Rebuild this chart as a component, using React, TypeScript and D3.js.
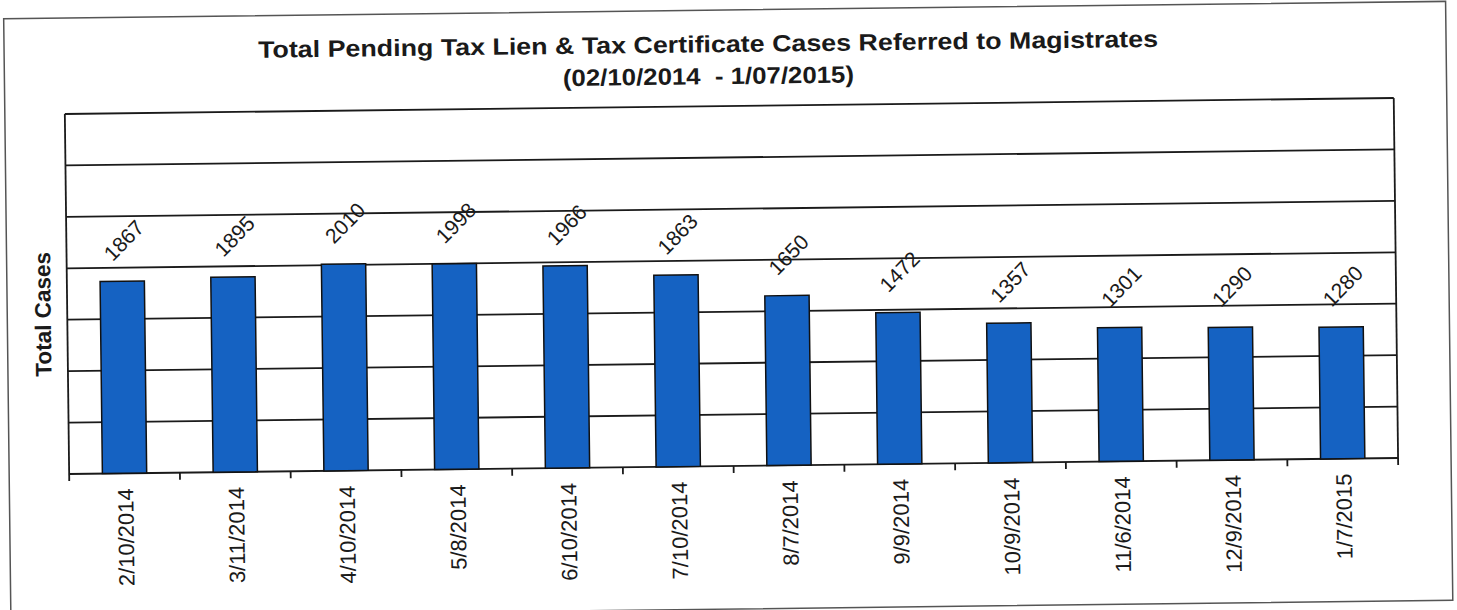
import React from "react";
import * as d3 from "d3";

const categories = [
  "2/10/2014", "3/11/2014", "4/10/2014", "5/8/2014", "6/10/2014", "7/10/2014",
  "8/7/2014", "9/9/2014", "10/9/2014", "11/6/2014", "12/9/2014", "1/7/2015",
];
const values = [1867, 1895, 2010, 1998, 1966, 1863, 1650, 1472, 1357, 1301, 1290, 1280];
const yTicks = [0, 500, 1000, 1500, 2000, 2500, 3000, 3500];
const title = "Total Pending Tax Lien & Tax Certificate Cases Referred to Magistrates";
const subtitle = "(02/10/2014  - 1/07/2015)";
const yTitle = "Total Cases";

const W = 1457;
const H = 610;
const plot = { left: 67, right: 1396, top: 106, bottom: 466 };
const FONT = "'Liberation Sans', Arial, Helvetica, sans-serif";
const INK = "#1a1a1a";
const BAR = "#1562c2";

export default function App() {
  const x = d3
    .scaleBand<string>()
    .domain(categories)
    .range([plot.left, plot.right])
    .paddingInner(0.6)
    .paddingOuter(0.3);
  const y = d3.scaleLinear().domain([0, 3500]).range([plot.bottom, plot.top]);
  const boundaries = d3.range(categories.length + 1).map((i) => plot.left + i * (plot.right - plot.left) / categories.length);

  return (
    <svg
      width={W}
      height={H}
      style={{ position: "absolute", left: 0, top: 0, background: "#fff" }}
      fontFamily={FONT}
    >
      <g transform="rotate(-0.69, 731, 290)">
        <rect x={7} y={10} width={1442} height={599} fill="none" stroke="#555" strokeWidth={1.5} />
        <text x={711} y={52} textAnchor="middle" fontWeight="bold" fontSize={23.5} fill={INK} textLength={900} lengthAdjust="spacingAndGlyphs">
          {title}
        </text>
        <text x={711} y={84} textAnchor="middle" fontWeight="bold" fontSize={23.5} fill={INK} textLength={291} lengthAdjust="spacingAndGlyphs" style={{ whiteSpace: "pre" }}>
          {subtitle}
        </text>
        <text
          transform={`translate(43, ${(plot.top + plot.bottom) / 2 + 20}) rotate(-90)`}
          textAnchor="middle"
          dominantBaseline="central"
          fontWeight="bold"
          fontSize={22.5}
          fill={INK}
        >
          {yTitle}
        </text>

        {/* gridlines */}
        {yTicks.map((t) => (
          <line key={t} x1={plot.left} x2={plot.right} y1={y(t)} y2={y(t)} stroke={INK} strokeWidth={1.8} />
        ))}
        <line x1={plot.left} x2={plot.left} y1={plot.top} y2={plot.bottom} stroke={INK} strokeWidth={1.8} />
        <line x1={plot.right} x2={plot.right} y1={plot.top} y2={plot.bottom} stroke={INK} strokeWidth={1.8} />

        {/* bars */}
        {values.map((v, i) => (
          <rect
            key={categories[i]}
            x={x(categories[i])!}
            y={y(v)}
            width={x.bandwidth()}
            height={y(0) - y(v)}
            fill={BAR}
            stroke="#111"
            strokeWidth={1.5}
          />
        ))}

        {/* x ticks */}
        {boundaries.map((b, i) => (
          <line key={i} x1={b} x2={b} y1={plot.bottom} y2={plot.bottom + 7} stroke={INK} strokeWidth={1.8} />
        ))}

        {/* data labels */}
        {values.map((v, i) => {
          const cx = x(categories[i])! + x.bandwidth() / 2 + 2;
          const cy = y(v) - 41;
          return (
            <text
              key={"l" + i}
              transform={`translate(${cx}, ${cy}) rotate(-45)`}
              textAnchor="middle"
              dominantBaseline="central"
              fontSize={21}
              fill={INK}
            >
              {v}
            </text>
          );
        })}

        {/* category labels */}
        {categories.map((c) => {
          const cx = x(c)! + x.bandwidth() / 2 + 1;
          return (
            <text
              key={"c" + c}
              transform={`translate(${cx}, ${plot.bottom + 15}) rotate(-90)`}
              textAnchor="end"
              dominantBaseline="central"
              fontSize={22}
              fill={INK}
            >
              {c}
            </text>
          );
        })}
      </g>
    </svg>
  );
}
